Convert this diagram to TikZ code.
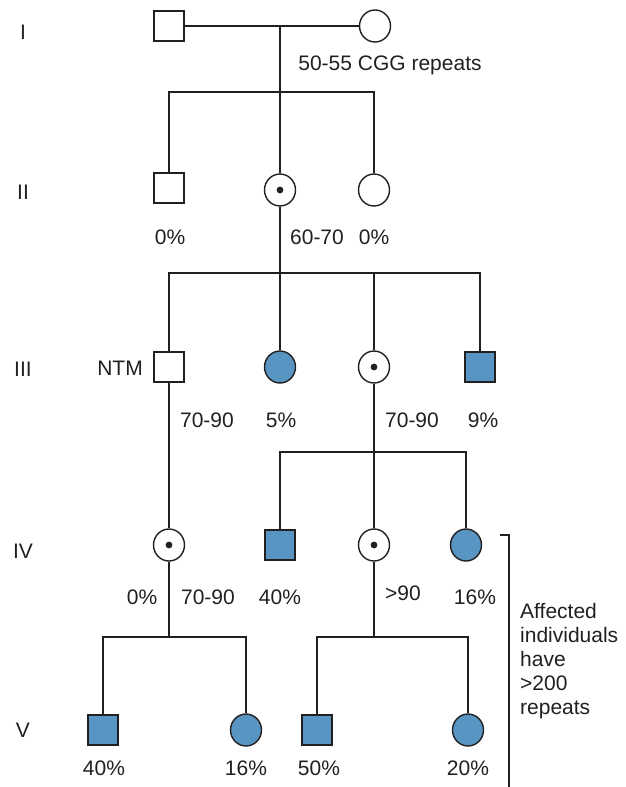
\documentclass[tikz,border=0pt]{standalone}
\usepackage{fontspec}
\usetikzlibrary{shapes.geometric}
\setmainfont{Liberation Sans}
\definecolor{aff}{RGB}{88,149,194}
\definecolor{ink}{RGB}{35,31,32}
\begin{document}
\begin{tikzpicture}[x=1pt,y=-1pt,
  every node/.style={font=\fontsize{21}{24}\selectfont, text=ink},
  ln/.style={draw=ink, line width=1.4pt},
  male/.style={draw=ink, line width=1.4pt, rectangle, minimum width=30pt, minimum height=30pt, inner sep=0pt, fill=white},
  female/.style={draw=ink, line width=1.4pt, ellipse, minimum width=31pt, minimum height=32pt, inner sep=0pt, fill=white},
  affm/.style={male, fill=aff},
  afff/.style={female, fill=aff},
  carrier/.style={female, path picture={\fill[ink] (path picture bounding box.center) circle (3.4pt);}},
  lab/.style={inner sep=0pt, anchor=center}
]
\useasboundingbox (0,0) rectangle (626,787);
% generation labels
\node[lab] (gI) at (23,32) {I};
\node[lab] (gII) at (23,192) {II};
\node[lab] (gIII) at (23,369) {III};
\node[lab] (gIV) at (23,551) {IV};
\node[lab] (gV) at (23,730) {V};
% individuals
\node[male] (sqI) at (169,26) {};
\node[female] (cI) at (375,26) {};
\node[male] (sqII) at (169,188) {};
\node[carrier] (dII) at (280,190) {};
\node[female] (cII) at (374,190) {};
\node[male] (ntm) at (169,367) {};
\node[afff] (fIII) at (280,367) {};
\node[carrier] (dIII) at (374,367) {};
\node[affm] (fsqIII) at (480,367) {};
\node[carrier] (dIVa) at (169,545) {};
\node[affm] (fsqIV) at (280,545) {};
\node[carrier] (dIVb) at (374,545) {};
\node[afff] (fcIV) at (466,545) {};
\node[affm] (sqVa) at (103,730) {};
\node[afff] (cVa) at (246,730) {};
\node[affm] (sqVb) at (317,730) {};
\node[afff] (cVb) at (468,730) {};
% junctions
\coordinate (jI) at (280,26);
\coordinate (sbII) at (280,92);
\coordinate (sbIII) at (280,273);
\coordinate (sbIV) at (374,452);
\coordinate (sbVa) at (169,637);
\coordinate (sbVb) at (374,637);
% connectors
\draw[ln] (sqI.east) -- (cI.west);
\draw[ln] (jI) -- (dII.north);
\draw[ln] (sqII.north) |- (sbII) -| (cII.north);
\draw[ln] (dII.south) -- (fIII.north);
\draw[ln] (ntm.north) |- (sbIII) -| (fsqIII.north);
\draw[ln] (dIII.north) -- (dIII.north |- sbIII);
\draw[ln] (ntm.south) -- (dIVa.north);
\draw[ln] (dIII.south) -- (dIVb.north);
\draw[ln] (fsqIV.north) |- (sbIV) -| (fcIV.north);
\draw[ln] (dIVa.south) -- (sbVa);
\draw[ln] (sqVa.north) |- (sbVa) -| (cVa.north);
\draw[ln] (dIVb.south) -- (sbVb);
\draw[ln] (sqVb.north) |- (sbVb) -| (cVb.north);
% bracket
\coordinate (brA) at (500,535);
\coordinate (brB) at (509,535);
\coordinate (brC) at (509,787);
\draw[draw=ink, line width=1.8pt] (brA) -- (brB) -- (brC);
% texts
\node[lab] (t1) at (390,65) {50-55 CGG repeats};
\node[lab] (t2) at (170,237) {0\%};
\node[lab] (t3) at (317,237) {60-70};
\node[lab] (t4) at (374,237) {0\%};
\node[lab] (t5) at (120,368) {NTM};
\node[lab] (t6) at (207,420) {70-90};
\node[lab] (t7) at (281,420) {5\%};
\node[lab] (t8) at (412,420) {70-90};
\node[lab] (t9) at (483,420) {9\%};
\node[lab] (t10) at (142,597) {0\%};
\node[lab] (t11) at (208,597) {70-90};
\node[lab] (t12) at (280,597) {40\%};
\node[lab] (t13) at (403,593) {>90};
\node[lab] (t14) at (475,597) {16\%};
\node[lab] (t15) at (104,768) {40\%};
\node[lab] (t16) at (246,768) {16\%};
\node[lab] (t17) at (319,768) {50\%};
\node[lab] (t18) at (468,768) {20\%};
\node[inner sep=0pt, anchor=west, align=left] (t19) at (520,661) {Affected\\individuals\\have\\>200\\repeats};
\end{tikzpicture}
\end{document}
